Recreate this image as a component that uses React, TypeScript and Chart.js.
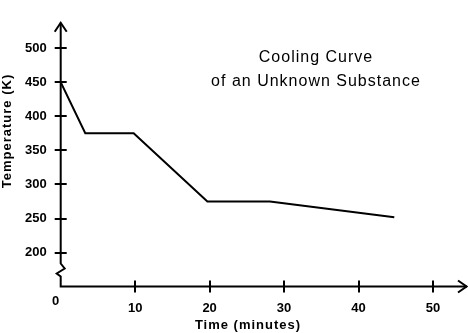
import React, { useEffect, useRef } from "react";
import { Chart, registerables } from "chart.js";

Chart.register(...registerables);

const timeMin = [0, 3.3, 9.8, 19.7, 28.1, 44.8];
const tempK = [450, 375, 375, 275, 275, 252];
const xTickValues = [10, 20, 30, 40, 50];
const yTickValues = [200, 250, 300, 350, 400, 450, 500];
const titleLines = ["Cooling Curve", "of an Unknown Substance"];
const xAxisTitle = "Time (minutes)";
const yAxisTitle = "Temperature (K)";
const originLabel = "0";

const FONT = "'Liberation Sans', Arial, sans-serif";

const axesPlugin = {
  id: "customAxes",
  afterDraw(chart: any) {
    const { ctx, chartArea, scales } = chart;
    const xs = scales.x;
    const ys = scales.y;
    const x0 = xs.getPixelForValue(0);
    const bottom = chartArea.bottom;
    const top = chartArea.top;
    const right = chartArea.right;
    ctx.save();
    ctx.strokeStyle = "#000";
    ctx.fillStyle = "#000";
    ctx.lineWidth = 2;
    ctx.lineJoin = "miter";
    ctx.lineCap = "butt";
    // y axis with break
    ctx.beginPath();
    ctx.moveTo(x0, top + 1);
    ctx.lineTo(x0, bottom - 23);
    ctx.lineTo(x0 + 4, bottom - 18);
    ctx.lineTo(x0 - 4, bottom - 13);
    ctx.lineTo(x0, bottom - 10);
    ctx.lineTo(x0, bottom);
    ctx.lineTo(right - 1, bottom);
    ctx.stroke();
    // arrows
    ctx.beginPath();
    ctx.moveTo(x0 - 6, top + 10);
    ctx.lineTo(x0, top + 1);
    ctx.lineTo(x0 + 6, top + 10);
    ctx.moveTo(right - 10, bottom - 6);
    ctx.lineTo(right - 1.5, bottom);
    ctx.lineTo(right - 10, bottom + 6);
    ctx.stroke();
    // ticks
    ctx.beginPath();
    yTickValues.forEach((v) => {
      const p = Math.round(ys.getPixelForValue(v));
      ctx.moveTo(x0 - 6, p);
      ctx.lineTo(x0 + 6, p);
    });
    xTickValues.forEach((v) => {
      const p = Math.round(xs.getPixelForValue(v));
      ctx.moveTo(p, bottom - 6);
      ctx.lineTo(p, bottom + 6);
    });
    ctx.stroke();
    // origin label
    ctx.font = `bold 13px ${FONT}`;
    ctx.textAlign = "center";
    ctx.textBaseline = "middle";
    ctx.fillText(originLabel, x0 - 5, bottom + 15);
    // axis titles
    (ctx as any).letterSpacing = "1px";
    ctx.fillText(xAxisTitle, 248, 325);
    ctx.save();
    ctx.translate(7, 131);
    ctx.rotate(-Math.PI / 2);
    ctx.fillText(yAxisTitle, 0, 0);
    ctx.restore();
    // chart title
    ctx.font = `16px ${FONT}`;
    ctx.fillText(titleLines[0], 316, 58);
    ctx.fillText(titleLines[1], 316, 82);
    ctx.restore();
  },
};

export default function App() {
  const ref = useRef<HTMLCanvasElement>(null);
  useEffect(() => {
    if (!ref.current) return;
    const chart = new Chart(ref.current, {
      type: "line",
      data: {
        datasets: [
          {
            data: timeMin.map((t, i) => ({ x: t, y: tempK[i] })),
            borderColor: "#000",
            borderWidth: 2,
            pointRadius: 0,
            tension: 0,
            fill: false,
          },
        ],
      },
      options: {
        animation: false,
        responsive: false,
        layout: { padding: 0 },
        plugins: {
          legend: { display: false },
          tooltip: { enabled: false },
          title: { display: false },
        },
        scales: {
          x: {
            type: "linear",
            min: 0,
            max: 54.7,
            grid: { display: false, drawTicks: false },
            border: { display: false },
            ticks: {
              color: "#000",
              padding: 14,
              font: { family: FONT, size: 13, weight: "bold" },
              maxRotation: 0,
            },
            afterBuildTicks: (s: any) => {
              s.ticks = xTickValues.map((v) => ({ value: v }));
            },
            afterFit: (s: any) => {
              s.height = 46.5;
            },
          },
          y: {
            type: "linear",
            min: 150.6,
            max: 538.3,
            grid: { display: false, drawTicks: false },
            border: { display: false },
            ticks: {
              color: "#000",
              padding: 14,
              font: { family: FONT, size: 13, weight: "bold" },
            },
            afterBuildTicks: (s: any) => {
              s.ticks = yTickValues.map((v) => ({ value: v }));
            },
            afterFit: (s: any) => {
              s.width = 60.7;
            },
          },
        },
      } as any,
      plugins: [axesPlugin],
    });
    return () => chart.destroy();
  }, []);
  return (
    <div style={{ position: "absolute", left: 0, top: 0, width: 468, height: 333, background: "#fff" }}>
      <canvas ref={ref} width={468} height={333} style={{ display: "block" }} />
    </div>
  );
}
